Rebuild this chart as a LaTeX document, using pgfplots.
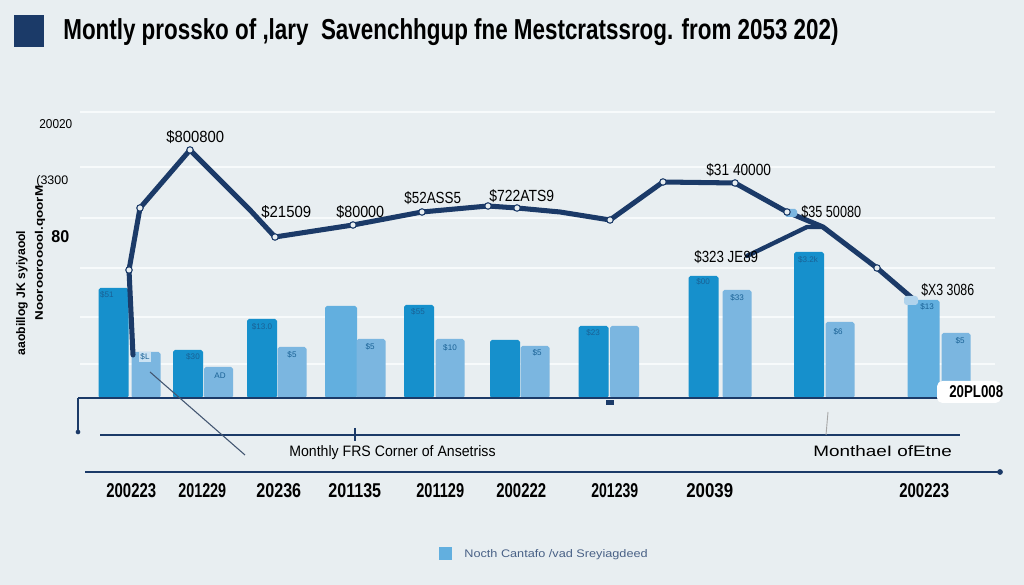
\documentclass[border=0pt]{standalone}
\usepackage{pgfplots}
\pgfplotsset{compat=1.18}
\usepackage{fontspec}
\setmainfont{Liberation Sans}
\definecolor{bg}{HTML}{E8EEF1}
\definecolor{navy}{HTML}{1B3A68}
\definecolor{darkbar}{HTML}{1690CC}
\definecolor{midbar}{HTML}{62AFDF}
\definecolor{lightbar}{HTML}{7BB6E0}
\definecolor{gridc}{HTML}{F7FAFB}
\newdimen\pxu \pxu=0.5537pt
\newcommand{\rb}[3]{\resizebox{#1\pxu}{#2\pxu}{#3}}
\begin{document}
\begin{tikzpicture}
\begin{axis}[
  scale only axis, width=20cm, height=11.426cm,
  xmin=0, xmax=1024, ymin=-187, ymax=398,
  axis lines=none, clip=false,
  every node/.style={inner sep=0pt, text=navy},
]
% background
\fill[bg] (rel axis cs:0,0) rectangle (rel axis cs:1,1);
% gridlines
\foreach \g in {34,81,130,180,231,286} {
  \edef\tmp{\noexpand\draw[gridc, line width=1.6pt] (axis cs:80,\g) -- (axis cs:995,\g);}\tmp
}
% bars
\addplot[ybar, bar shift=0pt, bar width=30, fill=darkbar, draw=none, rounded corners=1pt]
  coordinates {(113.5,110) (188,48) (262,79) (419,93) (505,58) (593.5,72) (703.5,122) (809,146)};
\addplot[ybar, bar shift=0pt, bar width=32, fill=midbar, draw=none, rounded corners=1pt]
  coordinates {(341,92) (923.5,98)};
\addplot[ybar, bar shift=0pt, bar width=29, fill=lightbar, draw=none, rounded corners=1pt]
  coordinates {(146,46) (218.5,31) (292,51) (371,59) (450,59) (535,52) (624.5,72) (737,108) (840,76) (956,65)};
% bar labels
\begin{scope}[every node/.style={inner sep=0pt, text=navy!55!darkbar, font=\fontsize{4.5}{5}\selectfont}]
\node at (axis cs:107,103) {\$51};
\node[fill=lightbar!40!white, inner sep=1pt] at (axis cs:145,41) {\$L};
\node at (axis cs:193,41) {\$30};
\node at (axis cs:220,22) {AD};
\node at (axis cs:262,71) {\$13.0};
\node at (axis cs:292,43) {\$5};
\node at (axis cs:370,51) {\$5};
\node at (axis cs:418,86) {\$55};
\node at (axis cs:450,50) {\$10};
\node at (axis cs:537,45) {\$5};
\node at (axis cs:593,65) {\$23};
\node at (axis cs:703,116) {\$00};
\node at (axis cs:737,100) {\$33};
\node at (axis cs:808,138) {\$3.2k};
\node at (axis cs:838,66) {\$6};
\node at (axis cs:927,91) {\$13};
\node at (axis cs:960,57) {\$5};
\end{scope}
% baseline and lower decorations
\draw[navy, line width=1.2pt] (axis cs:78,0) -- (axis cs:975,0);
\draw[navy, line width=0.8pt] (axis cs:78,0) -- (axis cs:78,-34);
\fill[navy] (axis cs:78,-34) circle[radius=1.3pt];
\fill[navy] (axis cs:606,-2) rectangle (axis cs:614,-7);
\draw[navy, line width=1pt] (axis cs:100,-37) -- (axis cs:960,-37);
\draw[navy, line width=1.4pt] (axis cs:355,-30) -- (axis cs:355,-43);
\draw[navy, line width=1.2pt] (axis cs:85,-74) -- (axis cs:1000,-74);
\fill[navy] (axis cs:1000,-74) circle[radius=1.6pt];
\draw[navy!60!gray, line width=0.6pt] (axis cs:150,26) -- (axis cs:245,-57);
\draw[gray!70, line width=0.5pt] (axis cs:828,-14) -- (axis cs:826,-37);
% line series
\addplot[navy, line width=2.8pt, line join=round, line cap=round] coordinates {
 (133,43) (129,128) (140,190) (190,248) (250,188) (275,161) (353,173) (422,186)
 (488,192) (517,190) (560,186) (610,178) (663,216) (735,215) (787,186) (823,171)
 (877,130) (912,100)};
\addplot[navy, line width=2.4pt, line join=round, line cap=round] coordinates {
 (747,142) (807,171) (823,171)};
\addplot[only marks, mark=*, mark size=1.8pt, mark options={fill=bg, draw=navy, line width=0.6pt}] coordinates {
 (129,128) (140,190) (190,248) (275,161) (353,173) (422,186) (488,192) (517,190)
 (610,178) (663,216) (735,215) (787,186) (877,130)};
\fill[lightbar, rounded corners=1pt] (axis cs:785,181) rectangle (axis cs:797,189);
\fill[lightbar!60!white, rounded corners=1.5pt] (axis cs:904,93) rectangle (axis cs:918,102);
% line labels
\node[anchor=base west] at (axis cs:160,255) {\rb{58}{12}{\$800800}};
\node[anchor=base west] at (axis cs:255,180) {\rb{50}{12}{\$21509}};
\node[anchor=base west] at (axis cs:330,180) {\rb{48}{12}{\$80000}};
\node[anchor=base west] at (axis cs:398,194) {\rb{57}{12}{\$52ASS5}};
\node[anchor=base west] at (axis cs:483,196) {\rb{65}{12}{\$722ATS9}};
\node[anchor=base west] at (axis cs:700,222) {\rb{65}{12}{\$31 40000}};
\node[anchor=base west] at (axis cs:795,180) {\rb{60}{12}{\$35 50080}};
\node[anchor=base west] at (axis cs:688,135) {\rb{64}{12}{\$323 JE89}};
\node[anchor=base west] at (axis cs:915,102) {\rb{53}{12}{\$X3 3086}};
\fill[white, rounded corners=3pt] (axis cs:937,-5) rectangle (axis cs:1001,17);
\node[anchor=base west] at (axis cs:943,0) {\rb{54}{12}{\bfseries 20PL008}};
% title
\fill[navy] (axis cs:14,383) rectangle (axis cs:44,351);
\node[anchor=base west] at (axis cs:57,358) {\rb{778}{21}{\bfseries Montly prossko of ,lary\ \ Savenchhgup fne Mestcratssrog. from 2053 202)}};
% y labels
\node[anchor=base west] at (axis cs:33,269) {\rb{33}{9}{20020}};
\node[anchor=base west] at (axis cs:30,213) {\rb{32}{9}{(3300}};
\node[anchor=base west] at (axis cs:45,155) {\rb{18}{12}{\bfseries 80}};
\node[rotate=90] at (axis cs:22,105) {\rb{125}{9}{\bfseries aaobillog JK syiyaool}};
\node[rotate=90] at (axis cs:40,145) {\rb{135}{8}{\bfseries Nooroorooool.qoorM}};
% middle texts
\node[anchor=base west] at (axis cs:283,-59) {\rb{207}{11}{Monthly FRS Corner of Ansetriss}};
\node[anchor=base west] at (axis cs:807,-59) {\rb{139}{11}{MonthaeI ofEtne}};
% x labels
\node[anchor=base west] at (axis cs:100,-100) {\rb{50}{14}{\bfseries 200223}};
\node[anchor=base west] at (axis cs:172,-100) {\rb{48}{14}{\bfseries 201229}};
\node[anchor=base west] at (axis cs:250,-100) {\rb{45}{14}{\bfseries 20236}};
\node[anchor=base west] at (axis cs:322,-100) {\rb{53}{14}{\bfseries 201135}};
\node[anchor=base west] at (axis cs:410,-100) {\rb{48}{14}{\bfseries 201129}};
\node[anchor=base west] at (axis cs:490,-100) {\rb{50}{14}{\bfseries 200222}};
\node[anchor=base west] at (axis cs:585,-100) {\rb{47}{14}{\bfseries 201239}};
\node[anchor=base west] at (axis cs:680,-100) {\rb{47}{14}{\bfseries 20039}};
\node[anchor=base west] at (axis cs:893,-100) {\rb{50}{14}{\bfseries 200223}};
% legend
\fill[midbar] (axis cs:439,-149) rectangle (axis cs:452,-162);
\node[anchor=base west] at (axis cs:458,-160) {\rb{184}{8}{\color{navy!80}Nocth Cantafo /vad Sreyiagdeed}};
\end{axis}
\end{tikzpicture}
\end{document}
